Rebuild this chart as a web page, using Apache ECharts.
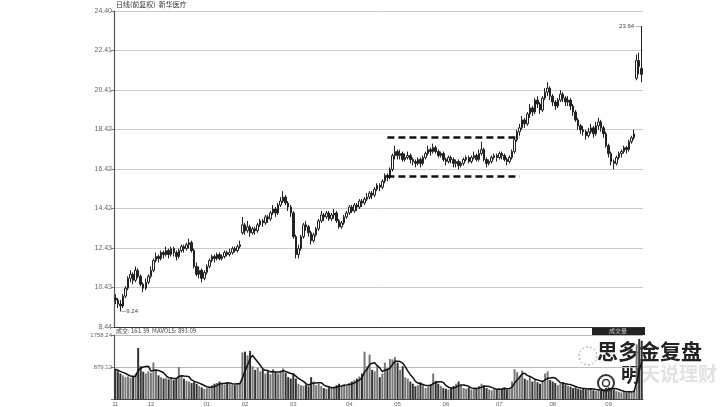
<!DOCTYPE html>
<html><head><meta charset="utf-8">
<script src="https://cdn.jsdelivr.net/npm/echarts@6/dist/echarts.min.js"></script>
<style>html,body{margin:0;padding:0;background:#fff}#c{width:725px;height:407px}</style>
</head><body><div id="c"></div>
<script>
const months = ['11','12','01','02','03','04','05','06','07','08','09'];
const monthDays = [14,22,15,19,22,19,19,21,21,22,14];
const priceTicks = ['8.44','10.43','12.43','14.42','16.42','18.42','20.41','22.41','24.40'];
const volTicks = ['', '879.12', '1758.24'];
// [open, close, low, high]
const kline = [
[9.9,9.8,9.6,10.1],[9.8,9.6,9.4,9.9],[9.6,9.5,9.24,9.8],[9.5,10.0,9.4,10.1],[10.0,10.4,9.9,10.5],
[10.4,10.9,10.3,11.0],[10.9,11.1,10.7,11.3],[11.1,10.8,10.6,11.2],[10.8,11.3,10.7,11.5],[11.3,11.0,10.9,11.4],
[11.0,10.6,10.5,11.1],[10.6,10.4,10.2,10.7],[10.4,10.7,10.3,10.9],[10.7,11.0,10.6,11.1],[11.0,11.3,10.9,11.5],
[11.3,11.8,11.2,11.9],[11.8,12.0,11.7,12.2],[12.0,11.9,11.7,12.1],[11.9,12.2,11.8,12.3],[12.2,12.1,11.9,12.3],
[12.1,12.3,12.0,12.5],[12.3,12.1,11.9,12.4],[12.1,12.4,12.0,12.5],[12.4,12.2,12.0,12.5],[12.2,12.0,11.8,12.3],
[12.0,12.3,11.9,12.4],[12.3,12.5,12.2,12.6],[12.5,12.4,12.2,12.6],[12.4,12.6,12.3,12.7],[12.6,12.7,12.4,12.9],
[12.7,12.3,12.2,12.8],[12.3,11.5,11.4,12.4],[11.5,11.1,11.0,11.7],[11.1,11.3,10.9,11.5],[11.3,10.9,10.7,11.4],
[10.9,11.2,10.8,11.3],[11.2,11.5,11.1,11.6],[11.5,11.8,11.4,11.9],[11.8,12.0,11.7,12.1],[12.0,11.9,11.7,12.1],
[11.9,12.1,11.8,12.2],[12.1,11.9,11.8,12.2],[11.9,12.0,11.8,12.1],[12.0,12.2,11.9,12.3],[12.2,12.1,12.0,12.3],
[12.1,12.2,12.0,12.4],[12.2,12.4,12.1,12.5],[12.4,12.3,12.2,12.5],[12.3,12.5,12.2,12.6],[12.5,12.6,12.4,12.8],
[13.2,13.6,13.1,14.0],[13.6,13.3,13.1,13.7],[13.3,13.5,13.2,13.8],[13.5,13.2,13.0,13.6],[13.2,13.4,13.1,13.5],
[13.4,13.3,13.1,13.5],[13.3,13.6,13.2,13.7],[13.6,13.8,13.5,13.9],[13.8,13.7,13.5,13.9],[13.7,14.0,13.6,14.1],
[14.0,13.9,13.7,14.1],[13.9,14.2,13.8,14.3],[14.2,14.4,14.1,14.6],[14.4,14.2,14.0,14.5],[14.2,14.6,14.1,14.7],
[14.6,14.8,14.5,15.0],[14.8,15.0,14.7,15.3],[15.0,14.7,14.6,15.1],[14.7,14.5,14.3,14.8],[14.5,14.2,14.0,14.6],
[14.2,13.0,12.9,14.3],[13.0,12.1,11.9,13.1],[12.1,12.4,11.9,12.6],[12.4,13.0,12.3,13.1],[13.0,13.6,12.9,13.7],
[13.6,13.5,13.3,13.8],[13.5,13.2,13.0,13.6],[13.2,12.8,12.6,13.3],[12.8,13.1,12.7,13.2],[13.1,13.4,13.0,13.5],
[13.4,13.8,13.3,13.9],[13.8,14.1,13.7,14.3],[14.1,14.0,13.8,14.2],[14.0,14.2,13.9,14.3],[14.2,13.9,13.8,14.3],
[13.9,14.1,13.8,14.2],[14.1,14.2,13.9,14.4],[14.2,13.8,13.7,14.3],[13.8,13.5,13.4,13.9],[13.5,13.7,13.4,13.8],
[13.7,14.0,13.6,14.1],[14.0,14.2,13.9,14.3],[14.2,14.5,14.1,14.6],[14.5,14.3,14.2,14.6],[14.3,14.6,14.2,14.7],
[14.6,14.5,14.3,14.7],[14.5,14.8,14.4,14.9],[14.8,14.7,14.5,14.9],[14.7,14.9,14.6,15.0],[14.9,15.0,14.8,15.2],
[15.0,15.2,14.9,15.3],[15.2,15.1,14.9,15.3],[15.1,15.4,15.0,15.5],[15.4,15.6,15.3,15.7],[15.6,15.5,15.3,15.7],
[15.5,15.8,15.4,15.9],[15.8,16.1,15.7,16.2],[16.1,16.0,15.8,16.2],[16.0,16.4,15.9,16.5],[16.4,17.1,16.3,17.2],
[17.1,17.3,16.9,17.6],[17.3,17.1,16.9,17.4],[17.1,17.2,16.9,17.4],[17.2,16.9,16.8,17.3],[16.9,17.0,16.8,17.2],
[17.0,17.1,16.9,17.3],[17.1,16.9,16.7,17.2],[16.9,16.8,16.6,17.0],[16.8,16.7,16.5,16.9],[16.7,16.9,16.6,17.0],
[16.9,16.7,16.5,17.0],[16.7,17.0,16.6,17.1],[17.0,17.2,16.9,17.3],[17.2,17.4,17.1,17.6],[17.4,17.3,17.1,17.5],
[17.3,17.5,17.2,17.7],[17.5,17.3,17.2,17.6],[17.3,17.1,17.0,17.4],[17.1,17.2,17.0,17.3],[17.2,16.9,16.8,17.3],
[16.9,16.8,16.6,17.0],[16.8,17.0,16.7,17.1],[17.0,16.9,16.7,17.1],[16.9,16.7,16.5,17.0],[16.7,16.8,16.5,16.9],
[16.8,16.6,16.4,16.9],[16.6,16.7,16.5,16.8],[16.7,16.9,16.6,17.0],[16.9,17.0,16.8,17.1],[17.0,16.8,16.7,17.1],
[16.8,17.0,16.7,17.1],[17.0,17.1,16.9,17.3],[17.1,16.9,16.8,17.2],[16.9,17.2,16.8,17.4],[17.2,17.4,17.1,17.8],
[17.4,16.9,16.8,17.5],[16.9,16.7,16.5,17.0],[16.7,16.8,16.6,16.9],[16.8,17.0,16.7,17.1],[17.0,17.1,16.9,17.2],
[17.1,17.0,16.8,17.2],[17.0,17.2,16.9,17.3],[17.2,17.1,16.9,17.3],[17.1,16.9,16.8,17.2],[16.9,16.8,16.6,17.0],
[16.8,17.0,16.7,17.1],[17.0,17.3,16.9,17.4],[17.3,17.9,17.2,18.0],[17.9,18.3,17.8,18.4],[18.3,18.5,18.1,18.7],
[18.5,18.9,18.4,19.1],[18.9,18.7,18.5,19.0],[18.7,19.2,18.6,19.3],[19.2,19.5,19.0,19.7],[19.5,19.3,19.1,19.6],
[19.3,19.9,19.2,20.0],[19.9,19.7,19.5,20.1],[19.7,19.4,19.2,19.8],[19.4,20.0,19.3,20.1],[20.0,20.3,19.9,20.5],
[20.3,20.5,20.1,20.8],[20.5,20.1,19.9,20.6],[20.1,19.8,19.6,20.2],[19.8,19.6,19.4,19.9],[19.6,19.9,19.5,20.0],
[19.9,20.2,19.8,20.4],[20.2,20.0,19.8,20.3],[20.0,19.8,19.6,20.1],[19.8,19.9,19.6,20.1],[19.9,19.6,19.4,20.0],
[19.6,19.3,19.1,19.7],[19.3,18.9,18.8,19.4],[18.9,18.6,18.4,19.0],[18.6,18.4,18.2,18.7],[18.4,18.3,18.1,18.6],
[18.3,18.1,17.9,18.4],[18.1,18.3,18.0,18.5],[18.3,18.5,18.2,18.7],[18.5,18.2,18.0,18.6],[18.2,18.6,18.1,18.8],
[18.6,18.8,18.4,19.0],[18.8,18.5,18.3,18.9],[18.5,18.2,18.0,18.6],[18.2,17.6,17.5,18.3],[17.6,17.2,17.0,17.7],
[17.2,16.8,16.6,17.3],[16.8,16.7,16.4,16.9],[16.7,17.0,16.6,17.1],[17.0,17.2,16.9,17.3],[17.2,17.3,17.0,17.4],
[17.3,17.5,17.2,17.6],[17.5,17.4,17.2,17.6],[17.4,17.8,17.3,17.9],[17.8,18.0,17.7,18.1],[18.0,18.2,17.9,18.4],
[21.0,21.9,20.9,22.2],[21.9,21.6,21.2,22.3],[21.5,21.2,20.8,23.64]
];
const volume = [
820,760,700,650,600, 620,580,640,700,1400, 900,750,700,760,720, 1000,800,650,600,560,
580,540,600,520,560, 880,640,560,500,480, 440,480,420,360,320, 280,300,340,380,420,
440,480,420,400,460, 430,400,380,420,450, 1280,1300,1200,1320,900, 800,860,760,820,700,
760,680,820,740,700, 780,840,720,600,560, 700,560,420,380,360, 400,350,600,480,380,
420,360,300,280,320, 300,340,380,420,360, 400,380,440,480,520, 560,620,700,1300,900,
1220,800,760,900,600, 700,1000,840,1100,1090, 1150,1000,800,900,600, 560,480,420,350,380,
460,380,300,340,400, 700,500,420,360,300, 280,260,300,360,420, 480,360,300,280,320,
260,300,280,360,420, 380,300,260,240,280, 260,300,280,320,260, 300,480,820,740,640,
780,560,520,600,480, 540,460,420,500,700, 760,520,480,440,380, 420,460,400,360,340,
300,320,280,260,300, 260,280,300,240,220, 240,220,260,300,320, 300,260,220,200,180,
200,180,220,200,240, 1500,1650,1600
];
const boxTop = 18.0, boxBottom = 16.07, boxStart = 107, boxEnd = 159;

const categories = [];
months.forEach((m, k) => { for (let d = 1; d <= monthDays[k]; d++) categories.push(m + '-' + d); });

const volData = volume.map((v, i) => ({ value: v, itemStyle: { color: kline[i][1] >= kline[i][0] ? '#777' : '#333' } }));
const mavol = volume.map((v, i) => {
  const s = volume.slice(Math.max(0, i - 4), i + 1);
  return +(s.reduce((a, b) => a + b, 0) / s.length).toFixed(2);
});
const lowIdx = 2, highIdx = kline.length - 1;

const chart = echarts.init(document.getElementById('c'), null, { renderer: 'canvas' });
const F = '"Liberation Sans", "DejaVu Sans", sans-serif';
const CJK = '"Noto Sans CJK SC", sans-serif';
chart.setOption({
  animation: false,
  backgroundColor: '#fff',
  grid: [
    { left: 114, top: 11, width: 529, height: 316 },
    { left: 114, top: 335, width: 529, height: 66 }
  ],
  xAxis: [
    { type: 'category', gridIndex: 0, data: categories, boundaryGap: true,
      axisLabel: { show: false }, axisTick: { show: false },
      axisLine: { lineStyle: { color: '#333', width: 1 } }, splitLine: { show: false } },
    { type: 'category', gridIndex: 1, data: categories, boundaryGap: true,
      axisTick: { show: false }, axisLine: { lineStyle: { color: '#444', width: 1 } },
      axisLabel: { interval: (idx, val) => val.endsWith('-1'), formatter: v => v.split('-')[0],
        fontSize: 6, color: '#666', margin: 2, fontFamily: F } }
  ],
  yAxis: [
    { type: 'value', gridIndex: 0, position: 'left', min: 8.44, max: 24.40, show: false },
    { type: 'value', gridIndex: 0, position: 'left', min: 0, max: 8, interval: 1,
      axisLine: { show: true, onZero: false, lineStyle: { color: '#555', width: 1.2 } },
      axisTick: { show: true, length: 3, lineStyle: { color: '#777' } },
      axisLabel: { formatter: v => priceTicks[v] || '', fontSize: 7, color: '#666', margin: 2, fontFamily: F },
      splitLine: { show: true, lineStyle: { color: '#ccc', width: 1 } } },
    { type: 'value', gridIndex: 1, position: 'left', min: 0, max: 1758.24, interval: 879.12,
      axisLine: { show: true, lineStyle: { color: '#555', width: 1.2 } },
      axisTick: { show: true, length: 3, lineStyle: { color: '#777' } },
      axisLabel: { formatter: (v) => { const k = Math.round(v / 879.12); return volTicks[k] || ''; },
        fontSize: 6, color: '#666', margin: 2, fontFamily: F },
      splitLine: { show: true, lineStyle: { color: '#bbb', width: 1 } } }
  ],
  series: [
    { type: 'candlestick', xAxisIndex: 0, yAxisIndex: 0, data: kline, barWidth: 2,
      itemStyle: { color: '#fff', color0: '#222', borderColor: '#222', borderColor0: '#222', borderWidth: 1 },
      markLine: { silent: true, symbol: ['none', 'none'], label: { show: false },
        lineStyle: { type: [7, 4], width: 2.5, color: '#111' },
        data: [
          [{ coord: [boxStart, boxTop] }, { coord: [boxEnd, boxTop] }],
          [{ coord: [boxStart, boxBottom] }, { coord: [boxEnd, boxBottom] }]
        ] },
      markPoint: { silent: true, symbol: 'circle', symbolSize: 0,
        data: [
          { coord: [lowIdx, kline[lowIdx][2]], label: { show: true, position: 'right', distance: 0,
              formatter: '\u2014' + kline[lowIdx][2].toFixed(2), fontSize: 6, color: '#444', fontFamily: F } },
          { coord: [highIdx, kline[highIdx][3]], label: { show: true, position: 'left', distance: 0,
              formatter: kline[highIdx][3].toFixed(2) + ' \u2014', fontSize: 6, color: '#444', fontFamily: F } }
        ] }
    },
    { type: 'bar', xAxisIndex: 1, yAxisIndex: 2, data: volData, barWidth: 2 },
    { type: 'line', xAxisIndex: 1, yAxisIndex: 2, data: mavol, showSymbol: false,
      lineStyle: { color: '#111', width: 1.5 }, silent: true }
  ],
  graphic: [
    { type: 'text', left: 116, top: 1, style: { text: '日线(前复权)  新华医疗', font: '7px ' + CJK, fill: '#333' } },
    { type: 'text', left: 116, top: 328, style: { text: '成交: 161.39  MAVOL5: 893.09', font: '6px ' + CJK, fill: '#444' } },
    { type: 'rect', shape: { x: 592, y: 327, width: 53, height: 8 }, style: { fill: '#222' } },
    { type: 'text', x: 618, y: 331, style: { text: '成交量', font: '6px ' + CJK, fill: '#ccc', align: 'center', verticalAlign: 'middle' } },
    { type: 'circle', shape: { cx: 588, cy: 356, r: 9 }, style: { fill: 'none', stroke: '#999', lineWidth: 1, lineDash: [2, 2] } },
    { type: 'circle', shape: { cx: 606, cy: 383, r: 8 }, style: { fill: '#fff', stroke: '#333', lineWidth: 2 } },
    { type: 'circle', shape: { cx: 606, cy: 383, r: 3.5 }, style: { fill: 'none', stroke: '#333', lineWidth: 1.5 } },
    { type: 'text', left: 596, top: 340, style: { text: '思多金复盘', font: 'bold 21px ' + CJK, fill: '#222', stroke: '#fff', lineWidth: 2 } },
    { type: 'text', left: 620, top: 364, style: { text: '明', font: 'bold 19px ' + CJK, fill: '#222', stroke: '#fff', lineWidth: 2 } },
    { type: 'text', left: 641, top: 364, style: { text: '天说理财', font: 'bold 19px ' + CJK, fill: '#e2e2e2' } }
  ]
});
</script></body></html>
